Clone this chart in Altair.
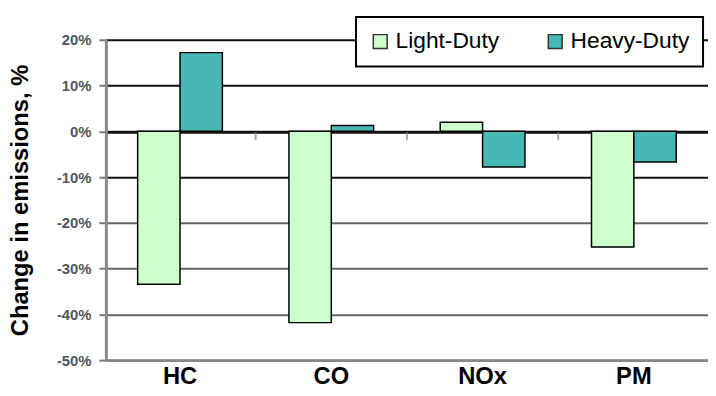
import altair as alt
import pandas as pd

pollutants = ["HC", "CO", "NOx", "PM"]
series = ["Light-Duty", "Heavy-Duty"]
light_duty = [-33.4, -41.8, 2.0, -25.3]
heavy_duty = [17.2, 1.3, -7.8, -6.7]
y_ticks = [20, 10, 0, -10, -20, -30, -40, -50]
colors = ["#CCFFCC", "#48B8B4"]

rows = []
for i, p in enumerate(pollutants):
    rows.append({"Pollutant": p, "Vehicle": series[0], "Change": light_duty[i]})
    rows.append({"Pollutant": p, "Vehicle": series[1], "Change": heavy_duty[i]})
df = pd.DataFrame(rows)
boundaries = pd.DataFrame({"Pollutant": pollutants[1:]})

FONT = "Liberation Sans"
WIDTH = 609
P_INNER = 0.44
P_OUTER = 0.21
x_scale = alt.Scale(domain=pollutants, paddingInner=P_INNER, paddingOuter=P_OUTER)
step = WIDTH / (len(pollutants) - P_INNER + 2 * P_OUTER)

bars = alt.Chart(df).mark_bar(stroke="black", strokeWidth=1.5).encode(
    x=alt.X(
        "Pollutant:N",
        sort=pollutants,
        scale=x_scale,
        axis=alt.Axis(
            title=None, labelAngle=0, labelFont=FONT, labelFontSize=24,
            labelFontWeight="bold", labelColor="black", ticks=False,
            domainColor="#888888", domainWidth=3, labelPadding=5, grid=False,
        ),
    ),
    xOffset=alt.XOffset("Vehicle:N", sort=series,
                        scale=alt.Scale(paddingInner=0, paddingOuter=0)),
    y=alt.Y(
        "Change:Q",
        stack=None,
        scale=alt.Scale(domain=[-50, 20], nice=False, zero=False),
        axis=alt.Axis(
            values=y_ticks, labelExpr="datum.value + '%'",
            title="Change in emissions, %",
            titleFont=FONT, titleFontSize=24, titleFontWeight="bold",
            titleColor="black", titleX=-86, titleY=162, titleBaseline="middle",
            labelFont=FONT, labelFontSize=15, labelFontWeight="bold",
            labelColor="#555555", labelPadding=8,
            tickSize=7, tickWidth=2, tickColor="#777777",
            domainColor="#888888", domainWidth=3,
            grid=True,
            gridColor={"condition": {"test": "datum.value >= -10", "value": "#111111"},
                       "value": "#666666"},
            gridWidth={"condition": {"test": "datum.value == 0", "value": 3},
                       "value": 2},
        ),
    ),
    y2=alt.datum(0),
    color=alt.Color(
        "Vehicle:N", sort=series,
        scale=alt.Scale(domain=series, range=colors),
        legend=alt.Legend(
            title=None, orient="none", legendX=253, legendY=-23,
            direction="horizontal", symbolType="square", symbolSize=196,
            symbolStrokeColor="#333333", symbolStrokeWidth=1.5,
            labelFont=FONT, labelFontSize=23, labelColor="black",
            labelOffset=4, columnPadding=45, padding=13,
            strokeColor="black", fillColor="white",
        ),
    ),
)

# small separator ticks on the zero line between categories
ticks = alt.Chart(boundaries).mark_tick(
    orient="vertical", size=8, thickness=2, color="#888888",
    yOffset=5, xOffset=-step * P_INNER / 2,
).encode(
    x=alt.X("Pollutant:N", sort=pollutants, scale=x_scale, bandPosition=0),
    y=alt.datum(0),
)

chart = alt.layer(bars, ticks).properties(
    width=WIDTH, height=324,
    autosize=alt.AutoSizeParams(type="none"),
    padding={"left": 99, "top": 30, "right": 0, "bottom": 26},
    background="white",
).configure_view(stroke=None).configure_legend(strokeWidth=2)

chart.save("out.html", embed_options={"renderer": "svg", "actions": False})
